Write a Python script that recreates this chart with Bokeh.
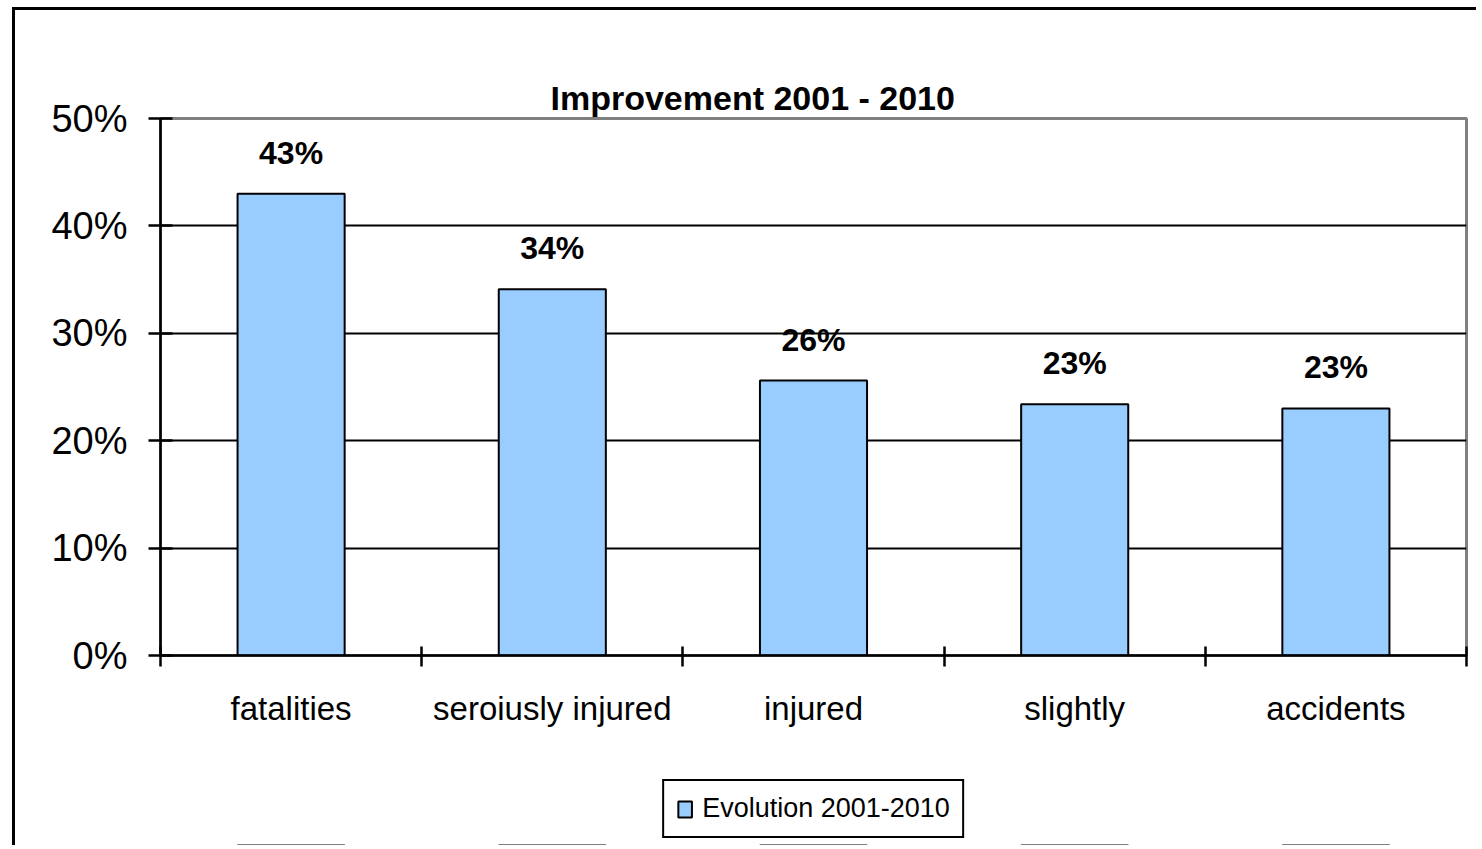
from bokeh.plotting import figure
from bokeh.layouts import column
from bokeh.models import (ColumnDataSource, Range1d, LinearAxis, Grid,
                          FixedTicker, NumeralTickFormatter, LabelSet, Legend, LegendItem)
from bokeh.core.properties import value
from bokeh.embed import file_html
from bokeh.resources import INLINE

categories = ["fatalities", "seroiusly injured", "injured", "slightly", "accidents"]
values = [0.430, 0.341, 0.256, 0.234, 0.230]
value_labels = ["43%", "34%", "26%", "23%", "23%"]
series_name = "Evolution 2001-2010"
title_text = "Improvement 2001 - 2010"
y_ticks = [0.0, 0.1, 0.2, 0.3, 0.4, 0.5]

FONT = "Liberation Sans"
BAR_FILL = "#99CCFF"

n = len(categories)
centers = [i + 0.5 for i in range(n)]
edges = list(range(n + 1))

src = ColumnDataSource(data=dict(x=centers, val=values, lab=value_labels))

p = figure(frame_width=1306, frame_height=537, output_backend="svg", toolbar_location=None,
           x_range=Range1d(0, n), y_range=Range1d(0, 0.5),
           x_axis_type=None, y_axis_type=None,
           min_border_left=145, min_border_right=10, min_border_top=108, min_border_bottom=90)

p.background_fill_color = "white"
p.border_fill_color = "white"
p.outline_line_color = "#808080"
p.outline_line_width = 3

# title
p.title.text = title_text
p.title.text_font = FONT
p.title.text_font_size = "34px"
p.title.text_font_style = "bold"
p.title.text_color = "black"
p.title.align = "left"
p.title.vertical_align = "top"
p.title.offset = 390
p.title.standoff = 0

# empty spacer between title and plot area
spacer = LinearAxis(ticker=FixedTicker(ticks=[]))
spacer.axis_line_color = None
spacer.major_tick_line_color = None
spacer.minor_tick_line_color = None
spacer.major_tick_out = 40
spacer.major_tick_in = 0
spacer.minor_tick_out = 0
spacer.major_label_standoff = 0
p.add_layout(spacer, "above")

# y axis
yax = LinearAxis(ticker=FixedTicker(ticks=y_ticks), formatter=NumeralTickFormatter(format="0%"))
yax.axis_line_width = 2.5
yax.major_tick_line_width = 2.5
yax.major_tick_out = 12
yax.major_tick_in = 12
yax.minor_tick_line_color = None
yax.major_label_text_font = FONT
yax.major_label_text_font_size = "38px"
yax.major_label_text_color = "black"
yax.major_label_standoff = 21
p.add_layout(yax, "left")

# x axis: labels at category centres, tick marks at category boundaries (minor ticks)
xax = LinearAxis(ticker=FixedTicker(ticks=centers, minor_ticks=edges),
                 major_label_overrides={c: name for c, name in zip(centers, categories)})
xax.axis_line_width = 2.5
xax.major_tick_line_color = None
xax.major_tick_out = 0
xax.major_tick_in = 0
xax.minor_tick_line_color = "black"
xax.minor_tick_line_width = 2.5
xax.minor_tick_out = 11
xax.minor_tick_in = 9
xax.major_label_text_font = FONT
xax.major_label_text_font_size = "33px"
xax.major_label_text_color = "black"
xax.major_label_standoff = 23
p.add_layout(xax, "below")

# horizontal gridlines (inner ticks only; 0% is the axis, 50% is the plot border)
p.add_layout(Grid(dimension=1, ticker=FixedTicker(ticks=y_ticks[1:-1]),
                  grid_line_color="black", grid_line_width=2))

r = p.vbar(x="x", top="val", width=0.41, source=src, fill_color=BAR_FILL,
           line_color="black", line_width=2)

labels = LabelSet(x="x", y="val", text="lab", source=src, text_align="center",
                  text_baseline="alphabetic", y_offset=30, text_font=value(FONT),
                  text_font_size=value("32px"), text_font_style="bold", text_color="black")
p.add_layout(labels)

# legend strip below the chart (its bars lie outside this strip's y range, only the key shows)
p2 = figure(frame_width=1306, frame_height=100, output_backend="svg", toolbar_location=None,
            x_range=Range1d(0, n), y_range=Range1d(2, 3), x_axis_type=None, y_axis_type=None,
            min_border_left=145, min_border_right=10, min_border_top=0, min_border_bottom=0)
p2.outline_line_color = None
p2.background_fill_color = "white"
p2.border_fill_color = "white"
r2 = p2.vbar(x="x", top="val", width=0.41, source=src,
             fill_color=BAR_FILL, line_color="black", line_width=2)

legend = Legend(items=[LegendItem(label=series_name, renderers=[r2])], location="bottom_center",
                orientation="horizontal")
legend.label_text_font = FONT
legend.label_text_font_size = "27px"
legend.label_text_color = "black"
legend.border_line_color = "black"
legend.border_line_alpha = 1
legend.border_line_width = 2.5
legend.glyph_width = 17
legend.glyph_height = 20
legend.label_standoff = 9
legend.padding = 12
legend.margin = 7
legend.background_fill_color = "white"
legend.background_fill_alpha = 1
p2.add_layout(legend, "center")

layout = column(p, p2, spacing=0)
layout.styles = {"margin-left": "12px", "margin-top": "7px",
                 "border-left": "3px solid black", "border-top": "3px solid black"}

open("out.html", "w").write(file_html(layout, INLINE))
